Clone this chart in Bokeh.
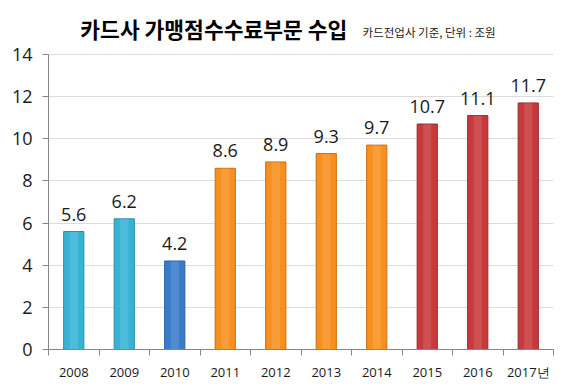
from bokeh.plotting import figure
from bokeh.models import ColumnDataSource, FixedTicker, Label, Range1d
from bokeh.core.properties import value
from bokeh.embed import file_html
from bokeh.resources import INLINE

years = ["2008", "2009", "2010", "2011", "2012", "2013", "2014", "2015", "2016", "2017년"]
revenue = [5.6, 6.2, 4.2, 8.6, 8.9, 9.3, 9.7, 10.7, 11.1, 11.7]
colors = ["#36b4d6", "#36b4d6", "#3a7ccc", "#f7901e", "#f7901e", "#f7901e", "#f7901e",
          "#c8393b", "#c8393b", "#c8393b"]
edges = ["#2a8ca8", "#2a8ca8", "#2c5f9e", "#c56f12", "#c56f12", "#c56f12", "#c56f12",
         "#962a2c", "#962a2c", "#962a2c"]
y_ticks = [0, 2, 4, 6, 8, 10, 12, 14]

xs = [i + 0.5 for i in range(len(years))]
labels = [f"{v:.1f}" for v in revenue]
src = ColumnDataSource(dict(x=xs, top=revenue, color=colors, edge=edges, label=labels))

# frame spans canvas y 10..349; 14 units = 295 px
y_top = 339 / (295 / 14)
p = figure(width=567, height=391, output_backend="svg", toolbar_location=None,
           x_range=Range1d(0, len(years)), y_range=Range1d(0, y_top),
           min_border_left=48, min_border_right=14, min_border_top=10, min_border_bottom=42)
p.outline_line_color = None
p.background_fill_color = "white"

p.vbar(x="x", top="top", width=0.4, bottom=0, source=src, fill_color="color",
       line_color="edge", line_width=1)
p.vbar(x="x", top="top", width=0.16, bottom=0, source=src, fill_color="white",
       fill_alpha=0.12, line_color=None)
p.text(x="x", y="top", text="label", source=src, text_align="center",
       text_baseline="bottom", y_offset=-11, text_font=value("Open Sans"),
       text_font_size="18px", text_color="#1a1a1a")

p.xaxis.ticker = FixedTicker(ticks=xs, minor_ticks=[float(i) for i in range(len(years) + 1)])
p.xaxis.major_label_overrides = {x: y for x, y in zip(xs, years)}
p.xaxis.major_tick_out = 0
p.xaxis.major_tick_in = 0
p.xaxis.minor_tick_out = 6
p.xaxis.minor_tick_in = 0
p.xaxis.minor_tick_line_color = "#868686"
p.xaxis.axis_line_color = "#868686"
p.xaxis.major_label_standoff = 7
p.xaxis.major_label_text_font = "Open Sans"
p.xaxis.major_label_text_font_size = "13px"
p.xaxis.major_label_text_color = "#1a1a1a"
p.xgrid.grid_line_color = None

p.yaxis.ticker = FixedTicker(ticks=y_ticks)
p.yaxis.bounds = (0, 14)
p.yaxis.minor_tick_line_color = None
p.yaxis.major_tick_out = 6
p.yaxis.major_tick_in = 0
p.yaxis.major_tick_line_color = "#868686"
p.yaxis.axis_line_color = "#868686"
p.yaxis.major_label_standoff = 10
p.yaxis.major_label_text_font = "Open Sans"
p.yaxis.major_label_text_font_size = "18px"
p.yaxis.major_label_text_color = "#1a1a1a"
p.ygrid.grid_line_color = "#dcdcdc"
p.ygrid.ticker = FixedTicker(ticks=y_ticks)

title = Label(x=0.63, y=15.24, text="카드사 가맹점수수료부문 수입",
              text_font="Noto Sans CJK KR", text_baseline="alphabetic",
              text_font_style="bold", text_font_size="21.5px", text_color="black")
sub = Label(x=6.22, y=15.09, text="카드전업사 기준, 단위 : 조원",
            text_font="Noto Sans CJK KR", text_baseline="alphabetic",
            text_font_size="11.5px", text_color="#222222")
p.add_layout(title)
p.add_layout(sub)

open("out.html", "w").write(file_html(p, INLINE))
